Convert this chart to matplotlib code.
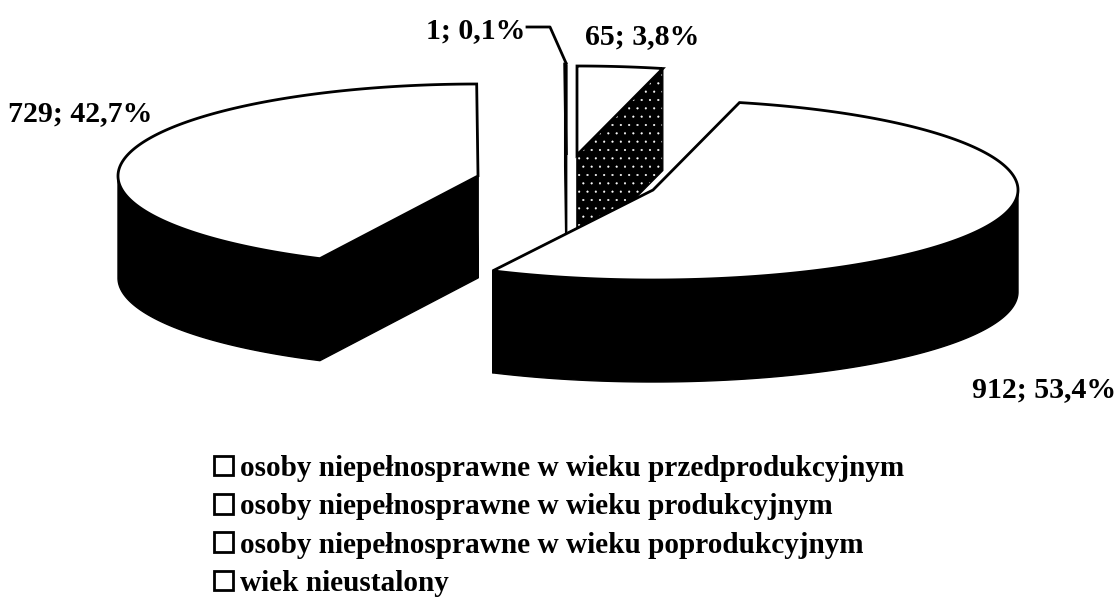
import numpy as np
import matplotlib
matplotlib.use("Agg")
import matplotlib.pyplot as plt
from matplotlib.patches import Polygon, Patch

values = [65, 912, 729, 1]
value_labels = ["65; 3,8%", "912; 53,4%", "729; 42,7%", "1; 0,1%"]
legend_labels = [
    "osoby niepełnosprawne w wieku przedprodukcyjnym",
    "osoby niepełnosprawne w wieku produkcyjnym",
    "osoby niepełnosprawne w wieku poprodukcyjnym",
    "wiek nieustalony",
]
# slice placement (exploded centres, pixels)
centres = [(577, 155), (653, 190), (478, 176), (566, 155)]
radii = [(362, 89), (365, 90), (360, 92), (362, 91)]
depth = 102
label_pos = [(642, 37), (1044, 390), (80, 114), (525, 31)]
label_ha = ["center", "center", "center", "right"]
draw_order = [3, 0, 2, 1]

plt.rcParams["font.family"] = ["Liberation Serif", "DejaVu Serif"]
plt.rcParams["font.weight"] = "bold"
plt.rcParams["hatch.linewidth"] = 0.3
fig = plt.figure(figsize=(11.17, 5.97), dpi=100)
ax = fig.add_axes([0, 0, 1, 1])
ax.set_xlim(0, 1117)
ax.set_ylim(597, 0)
ax.axis("off")

fracs = np.array(values, float) / np.sum(values)
edges = np.concatenate([[0], np.cumsum(fracs)]) * 2 * np.pi


def rim(c, r, t):
    return np.column_stack([c[0] + r[0] * np.sin(t), c[1] - r[1] * np.cos(t)])


for i in draw_order:
    c, r = centres[i], radii[i]
    t0, t1 = edges[i], edges[i + 1]
    ts = np.linspace(t0, t1, 300)
    pts = rim(c, r, ts)
    shift = np.array([0, depth])
    # radial cut faces
    for t in (t0, t1):
        p = rim(c, r, np.array([t]))[0]
        quad = [c, p, p + shift, np.array(c) + shift]
        if i == 0:
            ax.add_patch(Polygon(quad, closed=True, facecolor="black",
                                 edgecolor="white", hatch="..", lw=0))
            ax.add_patch(Polygon(quad, closed=True, fill=False,
                                 edgecolor="black", lw=1))
        else:
            ax.add_patch(Polygon(quad, closed=True, facecolor="black",
                                 edgecolor="black", lw=1))
    # outer wall, front-facing part only
    front = ts[(np.cos(ts) <= 0)]
    if front.size > 1:
        f = rim(c, r, front)
        ax.add_patch(Polygon(np.vstack([f, (f + shift)[::-1]]), closed=True,
                             facecolor="black", edgecolor="black", lw=1))
    # top face
    ax.add_patch(Polygon(np.vstack([[c], pts]), closed=True, facecolor="white",
                         edgecolor="black", lw=2, joinstyle="miter"))

for (x, y), s, ha in zip(label_pos, value_labels, label_ha):
    ax.text(x, y, s, fontsize=21.5, ha=ha, va="center", color="black")

ax.plot([527, 550, 566], [27, 27, 63], color="black", lw=2)

handles = [Patch(facecolor="white", edgecolor="black", lw=2) for _ in legend_labels]
leg = ax.legend(handles, legend_labels, loc="upper left",
                bbox_to_anchor=(214, 455), bbox_transform=ax.transData,
                frameon=False, fontsize=21.1, labelspacing=0.385,
                handlelength=0.65, handleheight=0.65, handletextpad=0.24,
                borderpad=0, borderaxespad=0)

fig.savefig("out.png", dpi=100)
